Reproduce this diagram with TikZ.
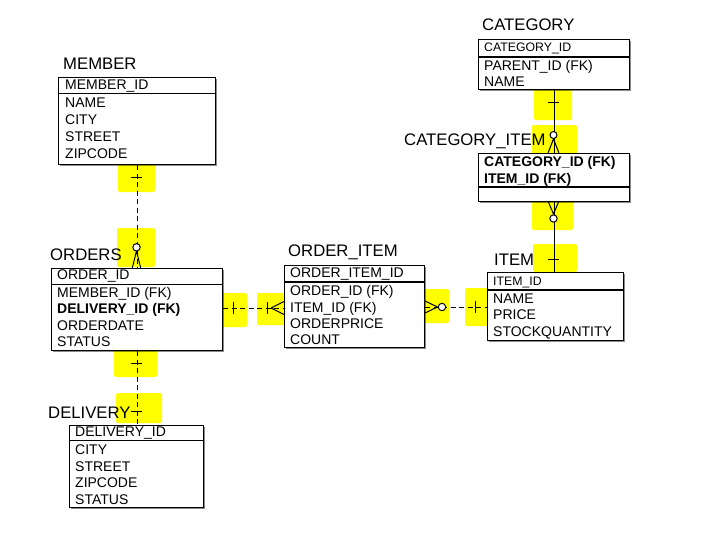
\documentclass[tikz,border=0pt]{standalone}
\usepackage{fontspec}
\setmainfont{Liberation Sans}
\usetikzlibrary{shadows}
\definecolor{hly}{RGB}{255,255,0}
\begin{document}
\begin{tikzpicture}[x=1pt,y=-1pt,
  hl/.style={fill=hly, draw=none, rounded corners=2pt},
  tbl/.style={draw=black, line width=1.1pt, fill=white, inner sep=0pt, anchor=north west,
    drop shadow={shadow xshift=1.3pt, shadow yshift=-1.3pt, opacity=.45, fill=black}},
  sep/.style={line width=1.1pt},
  ttl/.style={inner sep=0pt, anchor=base west, font=\fontsize{16.7}{18}\selectfont},
  row/.style={inner sep=0pt, anchor=base west, font=\fontsize{14}{16}\selectfont},
  srow/.style={inner sep=0pt, anchor=base west, font=\fontsize{12.3}{14}\selectfont},
  brow/.style={inner sep=0pt, anchor=base west, font=\fontsize{14}{16}\selectfont\bfseries},
  conn/.style={line width=1pt},
  dsh/.style={conn, dash pattern=on 5pt off 3.5pt},
  sym/.style={line width=1pt},
  ring/.style={line width=1pt, fill=white}]
\useasboundingbox (0,0) rectangle (707,552);

% highlighter marks
\fill[hl] (118,164) rectangle (155,192);
\fill[hl] (117,228) rectangle (155,267);
\fill[hl] (218,293) rectangle (247,327);
\fill[hl] (257,293) rectangle (285,325);
\fill[hl] (423,289) rectangle (449,323);
\fill[hl] (465,288) rectangle (489,326);
\fill[hl] (114,349) rectangle (157,377);
\fill[hl] (116,393) rectangle (162,423);
\fill[hl] (534,89) rectangle (572,120);
\fill[hl] (532,125) rectangle (577,155);
\fill[hl] (532,200) rectangle (573,230);
\fill[hl] (533,244) rectangle (577,272);

% helper coordinates
\coordinate (r1) at (0,308);
\coordinate (r2) at (0,307);

% tables
\node[tbl, minimum width=157pt, minimum height=87pt] (member) at (58,77) {};
\node[tbl, minimum width=171pt, minimum height=82pt] (orders) at (51,268) {};
\node[tbl, minimum width=134pt, minimum height=82pt] (delivery) at (69,425) {};
\node[tbl, minimum width=140pt, minimum height=82pt] (oi) at (284,265) {};
\node[tbl, minimum width=136pt, minimum height=68pt] (item) at (487,272) {};
\node[tbl, minimum width=151pt, minimum height=50pt] (category) at (478,39) {};
\node[tbl, minimum width=151pt, minimum height=48pt] (catitem) at (478,153) {};

% header separators
\coordinate (s1) at (0,93.3);  \draw[sep] (member.west |- s1) -- (member.east |- s1);
\coordinate (s2) at (0,284.3); \draw[sep] (orders.west |- s2) -- (orders.east |- s2);
\coordinate (s3) at (0,440.3); \draw[sep] (delivery.west |- s3) -- (delivery.east |- s3);
\coordinate (s4) at (0,282); \draw[sep] (oi.west |- s4) -- (oi.east |- s4);
\coordinate (s5) at (0,290); \draw[sep] (item.west |- s5) -- (item.east |- s5);
\coordinate (s6) at (0,57);  \draw[sep] (category.west |- s6) -- (category.east |- s6);
\coordinate (s7) at (0,187); \draw[sep] (catitem.west |- s7) -- (catitem.east |- s7);

% titles
\node[ttl] (tmember) at (63,69) {MEMBER};
\node[ttl] (torders) at (50,260) {ORDERS};
\node[ttl] (toi) at (288,256.7) {ORDER\_ITEM};
\node[ttl] (titem) at (494,265) {ITEM};
\node[ttl] (tcat) at (482,30.7) {CATEGORY};
\node[ttl] (tcatitem) at (404,145) {CATEGORY\_ITEM};
\node[ttl] (tdel) at (48,418) {DELIVERY};

% MEMBER rows
\node[row] (m0) at (65,89.4) {MEMBER\_ID};
\node[row] (m1) at (65,107.3) {NAME};
\node[row] (m2) at (65,124.4) {CITY};
\node[row] (m3) at (65,141.5) {STREET};
\node[row] (m4) at (65,158.6) {ZIPCODE};

% ORDERS rows
\node[row] (o0) at (57,279.6) {ORDER\_ID};
\node[row] (o1) at (57,297) {MEMBER\_ID (FK)};
\node[brow] (o2) at (57,313.6) {DELIVERY\_ID (FK)};
\node[row] (o3) at (57,330.2) {ORDERDATE};
\node[row] (o4) at (57,346.8) {STATUS};

% DELIVERY rows
\node[row] (d0) at (75,436.8) {DELIVERY\_ID};
\node[row] (d1) at (75,454.3) {CITY};
\node[row] (d2) at (75,471) {STREET};
\node[row] (d3) at (75,487.6) {ZIPCODE};
\node[row] (d4) at (75,504) {STATUS};

% ORDER_ITEM rows
\node[row] (i0) at (290,277.6) {ORDER\_ITEM\_ID};
\node[row] (i1) at (290,295.5) {ORDER\_ID (FK)};
\node[row] (i2) at (290,312.3) {ITEM\_ID (FK)};
\node[row] (i3) at (290,328.5) {ORDERPRICE};
\node[row] (i4) at (290,344.5) {COUNT};

% ITEM rows
\node[srow] (t0) at (493,285) {ITEM\_ID};
\node[row] (t1) at (493,303.3) {NAME};
\node[row] (t2) at (493,319.5) {PRICE};
\node[row] (t3) at (493,336) {STOCKQUANTITY};

% CATEGORY rows
\node[srow] (c0) at (484,51.7) {CATEGORY\_ID};
\node[row] (c1) at (484,70) {PARENT\_ID (FK)};
\node[row] (c2) at (484,86) {NAME};

% CATEGORY_ITEM rows
\node[brow] (ci0) at (484,166.7) {CATEGORY\_ID (FK)};
\node[brow] (ci1) at (484,183) {ITEM\_ID (FK)};

% connectors
\draw[dsh] (member.south) -- (orders.north);
\draw[dsh] (orders.south) -- (orders.south |- delivery.north);
\draw[dsh] (orders.east |- r1) -- (oi.west |- r1);
\draw[dsh] (oi.east |- r2) -- (item.west |- r2);
\draw[conn] (category.south) -- (catitem.north);
\draw[conn] (catitem.south) -- (catitem.south |- item.north);

% MEMBER -- ORDERS ends
\draw[sym] (131,177) -- (142,177);
\draw[sym] (136.5,251) -- (132.3,268) (136.5,251) -- (140.7,268);
\draw[ring] (136.5,247.3) circle (3.7);

% ORDERS -- DELIVERY ends
\draw[sym] (131,363) -- (142,363);
\draw[sym] (131,411) -- (142,411);

% ORDERS -- ORDER_ITEM ends
\draw[sym] (233,302) -- (233,314);
\draw[sym] (267,302) -- (267,314);
\draw[sym] (271,308) -- (284,301.5) (271,308) -- (284,314.5);

% ORDER_ITEM -- ITEM ends
\draw[sym] (424,300.5) -- (437.5,307) -- (424,313.5);
\draw[ring] (442,307) circle (3.7);
\draw[sym] (475,301) -- (475,313);

% CATEGORY -- CATEGORY_ITEM ends
\draw[sym] (548,102) -- (559,102);
\draw[sym] (553.5,139) -- (548,153) (553.5,139) -- (559,153);
\draw[ring] (553.5,135) circle (3.5);

% CATEGORY_ITEM -- ITEM ends
\draw[sym] (548,201) -- (553.5,214) -- (559,201);
\draw[ring] (553.5,218.5) circle (3.7);
\draw[sym] (548,259) -- (559,259);
\end{tikzpicture}
\end{document}
